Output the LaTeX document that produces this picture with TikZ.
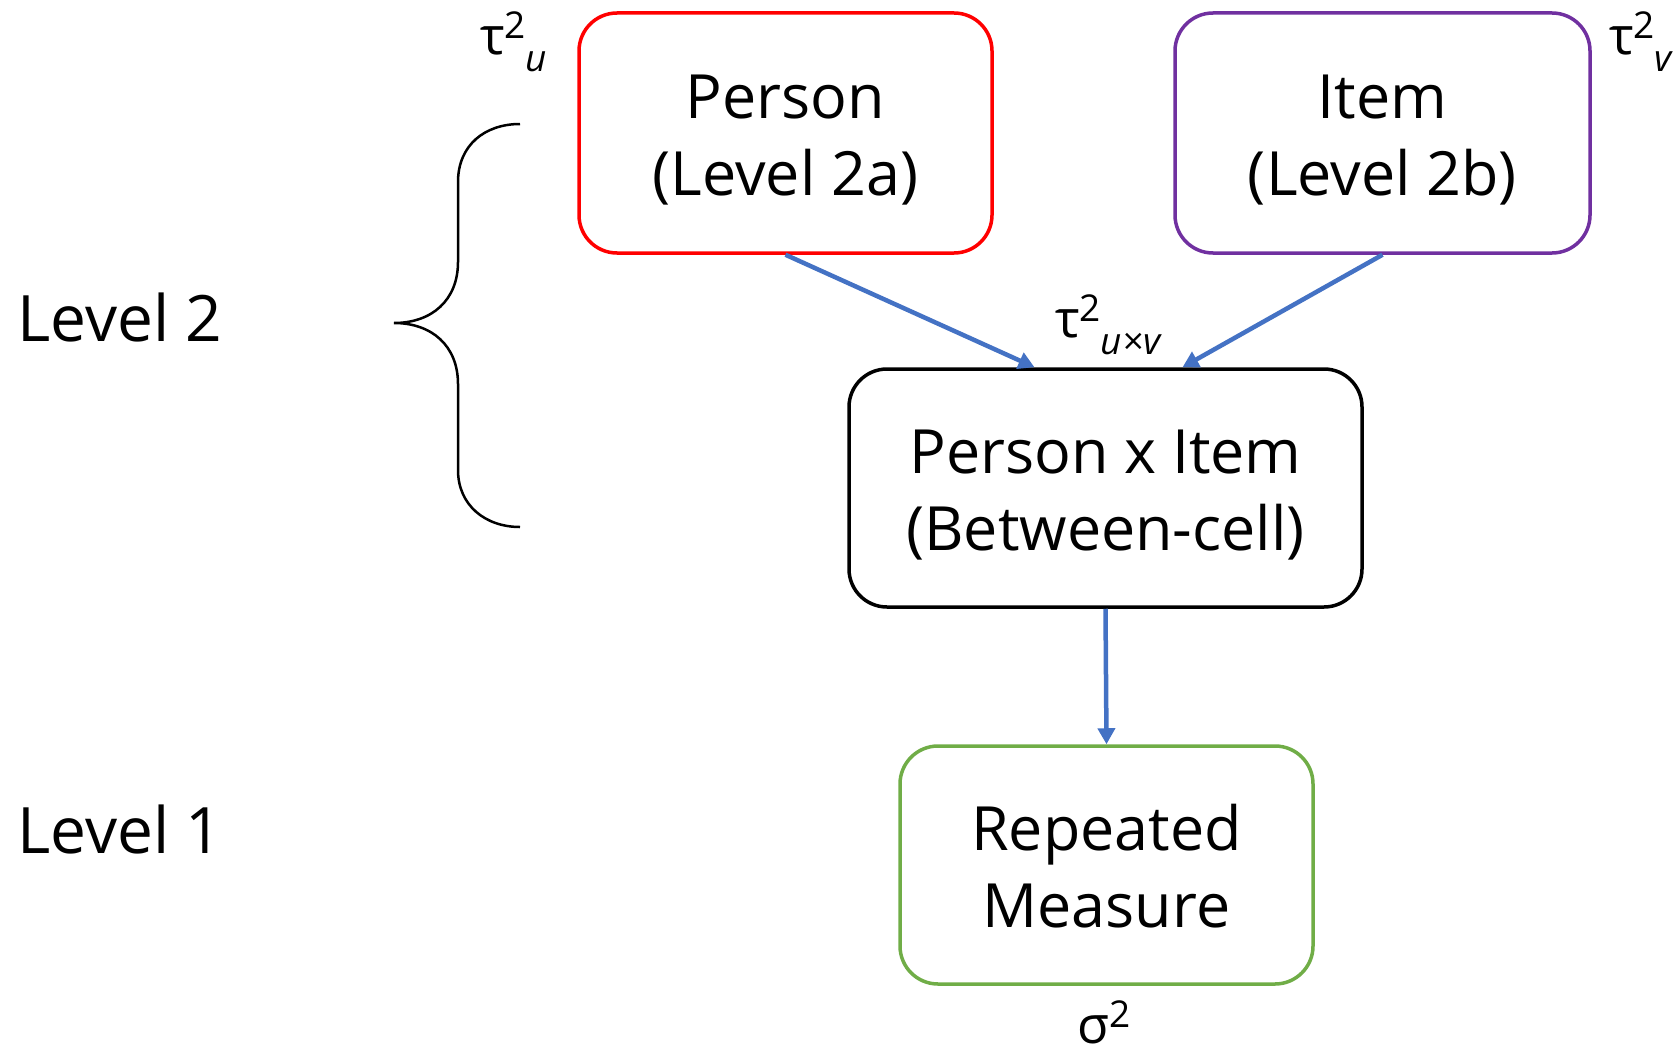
\documentclass[tikz,border=0pt]{standalone}
\usepackage{fontspec}
\setmainfont{Open Sans}
\usetikzlibrary{arrows.meta}
\definecolor{boxred}{HTML}{FF0000}
\definecolor{boxpurple}{HTML}{7030A0}
\definecolor{boxgreen}{HTML}{70AD47}
\definecolor{arrblue}{HTML}{4472C4}
\newcommand{\tlab}[2]{\fontsize{52}{56}\selectfont #1\raisebox{16pt}{\fontsize{37}{40}\selectfont 2}\raisebox{-17pt}{\fontsize{37}{40}\selectfont\itshape #2}}
\begin{document}
\begin{tikzpicture}[x=1pt,y=-1pt,
  box/.style={draw, line width=3.5pt, rounded corners=38pt, inner sep=0pt},
  boxtext/.style={align=center, font=\fontsize{61}{77}\selectfont, inner sep=0pt},
  conn/.style={draw=arrblue, line width=4.5pt, -{Triangle[length=16pt,width=17pt]}},
  lvl/.style={font=\fontsize{64}{70}\selectfont, anchor=base west, inner sep=0pt},
  tau/.style={anchor=base west, inner sep=0pt}]
\useasboundingbox (0,0) rectangle (1680,1054);
\node[box, draw=boxred, minimum width=413pt, minimum height=240pt] (person) at (785.5,133) {};
\node[box, draw=boxpurple, minimum width=415pt, minimum height=240pt] (item) at (1382.5,133) {};
\node[box, draw=black, minimum width=513pt, minimum height=238pt] (pxi) at (1105.5,488) {};
\node[box, draw=boxgreen, minimum width=413pt, minimum height=238pt] (rep) at (1106.5,865) {};
\node[boxtext, yshift=-7pt] (personT) at (person.center) {Person\\(Level 2a)};
\node[boxtext, yshift=-7pt] (itemT) at (item.center) {Item\\(Level 2b)};
\node[boxtext, yshift=-7pt] (pxiT) at (pxi.center) {Person x Item\\(Between-cell)};
\node[boxtext, yshift=-1pt] (repT) at (rep.center) {Repeated\\Measure};
\node[lvl] (l2) at (17,341) {Level 2};
\node[lvl] (l1) at (17,853) {Level 1};
\node[tau] (tu) at (480,55) {\tlab{τ}{u}};
\node[tau] (tv) at (1609,55) {\tlab{τ}{v}};
\node[tau] (tuv) at (1055,337) {\tlab{τ}{u×v}};
\node[tau, font=\fontsize{52}{56}\selectfont] (sig) at (1077,1043) {σ\raisebox{16pt}{\fontsize{37}{40}\selectfont 2}};
\draw[conn] (person.south) -- ([xshift=-71pt]pxi.north);
\draw[conn] (item.south) -- ([xshift=77pt]pxi.north);
\draw[conn] (pxi.south) -- (rep.north);
\draw[line width=2.5pt] (520,124) .. controls (485,124) and (458,145) .. (458,182) -- (458,262)
  .. controls (458,300) and (432,323) .. (394,323)
  .. controls (432,323) and (458,346) .. (458,384) -- (458,470)
  .. controls (458,505) and (485,527) .. (520,527);
\end{tikzpicture}
\end{document}
